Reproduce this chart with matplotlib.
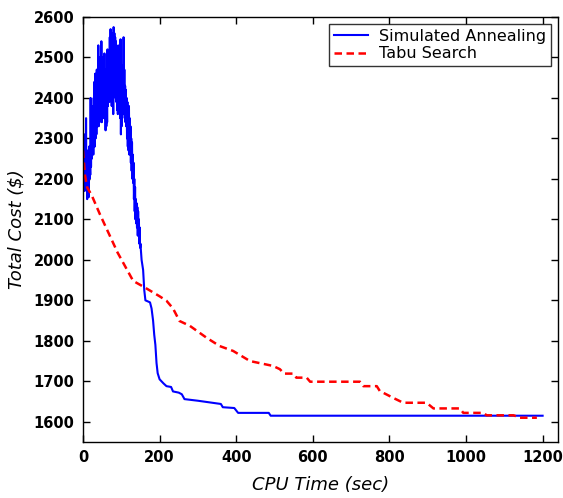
import matplotlib
matplotlib.use("Agg")
import matplotlib.pyplot as plt

# Simulated Annealing: noisy phase (x = 0..150, step 1) then descent
sa_noisy = [2300, 2190, 2280, 2170, 2310, 2200, 2260, 2180, 2350, 2170,
            2250, 2150, 2270, 2160, 2240, 2155, 2280, 2200, 2260, 2210,
            2400, 2230, 2350, 2250, 2330, 2270, 2380, 2260, 2400, 2290,
            2440, 2280, 2460, 2300, 2420, 2310, 2470, 2330, 2440, 2340,
            2530, 2330, 2480, 2340, 2500, 2360, 2450, 2350, 2540, 2340,
            2500, 2360, 2480, 2380, 2460, 2350, 2510, 2360, 2470, 2320,
            2440, 2330, 2460, 2340, 2520, 2380, 2490, 2400, 2470, 2390,
            2550, 2400, 2570, 2420, 2540, 2380, 2560, 2400, 2500, 2360,
            2575, 2440, 2560, 2420, 2550, 2400, 2540, 2390, 2530, 2370,
            2520, 2360, 2510, 2420, 2530, 2380, 2500, 2350, 2545, 2310,
            2460, 2330, 2440, 2370, 2480, 2380, 2550, 2360, 2470, 2350,
            2430, 2340, 2420, 2330, 2400, 2300, 2390, 2280, 2380, 2270,
            2380, 2260, 2350, 2270, 2330, 2240, 2300, 2220, 2290, 2200,
            2260, 2190, 2240, 2150, 2200, 2120, 2180, 2100, 2150, 2090,
            2140, 2080, 2130, 2060, 2120, 2060, 2100, 2040, 2080, 2030,
            2040]
sa_tail_x = [153, 157, 160, 163, 175, 179, 183, 186, 189, 192, 195, 200,
             210, 218, 230, 235, 250, 258, 265, 300, 330, 360, 365, 395,
             405, 485, 490, 1200]
sa_tail_y = [2000, 1975, 1925, 1900, 1895, 1880, 1850, 1815, 1790, 1745, 1720, 1705,
             1695, 1688, 1686, 1675, 1672, 1668, 1656, 1652, 1648, 1644, 1636, 1634,
             1622, 1622, 1615, 1615]
sa_x = list(range(0, 151)) + sa_tail_x
sa_y = sa_noisy + sa_tail_y

# Tabu Search
ts_x = [0, 5, 11, 23, 44, 84, 88, 131, 161, 200, 218, 235, 252, 279, 322, 357, 392, 436,
        496, 514, 525, 549, 557, 584, 593, 723, 732, 767, 775, 810, 836, 897, 915, 984,
        993, 1045, 1054, 1124, 1141, 1185]
ts_y = [2270, 2210, 2179, 2159, 2113, 2031, 2022, 1948, 1932, 1910, 1899, 1880, 1849, 1837,
        1808, 1787, 1775, 1750, 1738, 1730, 1719, 1719, 1709, 1709, 1699, 1699, 1688, 1688,
        1676, 1659, 1647, 1647, 1633, 1633, 1622, 1622, 1616, 1616, 1610, 1610]

x_ticks = [0, 200, 400, 600, 800, 1000, 1200]
y_ticks = [1600, 1700, 1800, 1900, 2000, 2100, 2200, 2300, 2400, 2500, 2600]

fig = plt.figure(figsize=(5.63, 4.98), dpi=100)
ax = fig.add_axes([0.1474, 0.1124, 0.991 - 0.1474, 0.9659 - 0.1124])

ax.plot(sa_x, sa_y, color="#0000ff", lw=1.5, label="Simulated Annealing")
ax.plot(ts_x, ts_y, color="#ff0000", lw=1.8, ls=(0, (3, 1.8)), label="Tabu Search")

ax.set_xlim(0, 1240)
ax.set_ylim(1550, 2600)
ax.set_xticks(x_ticks)
ax.set_yticks(y_ticks)
ax.tick_params(direction="in", length=5, width=1, top=True, right=True,
               labelsize=10.5, pad=6)
for lab in ax.get_xticklabels() + ax.get_yticklabels():
    lab.set_fontweight("bold")
    lab.set_family("DejaVu Sans")
for s in ax.spines.values():
    s.set_linewidth(1)

ax.set_xlabel("CPU Time (sec)", fontsize=13, style="italic", labelpad=8)
ax.set_ylabel("Total Cost ($)", fontsize=13, style="italic", labelpad=6)

leg = ax.legend(loc="upper right", fontsize=11.5, frameon=True, fancybox=False,
                edgecolor="black", handlelength=2.1, borderpad=0.3,
                labelspacing=0.15, borderaxespad=0.45, handletextpad=0.7)
leg.get_frame().set_linewidth(1)

fig.savefig("out.png", dpi=100)
